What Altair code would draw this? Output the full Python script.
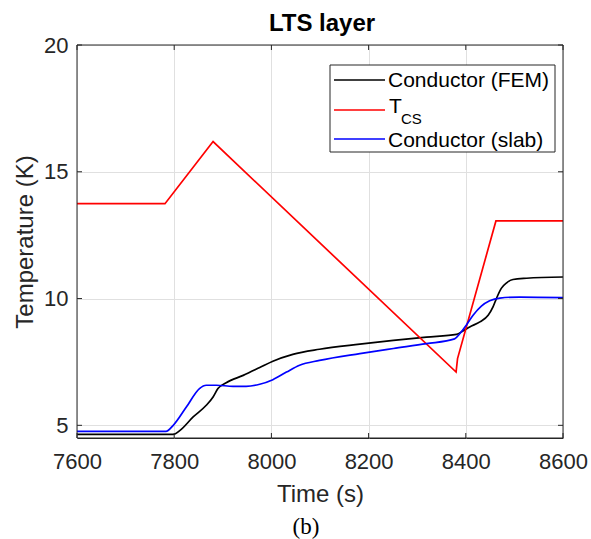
import altair as alt
import pandas as pd

# ---- data ----
fem_t = [7600, 7798, 7812, 7839, 7866, 7880, 7890, 7907, 7942, 7976, 8003, 8044, 8099,
         8182, 8251, 8319, 8381, 8394, 8408, 8429, 8446, 8456, 8463, 8473, 8484, 8497,
         8525, 8600]
fem_T = [4.64, 4.64, 4.80, 5.33, 5.79, 6.12, 6.45, 6.68, 6.97, 7.28, 7.53, 7.80, 8.00,
         8.20, 8.35, 8.48, 8.59, 8.72, 8.88, 9.08, 9.34, 9.67, 10.00, 10.40, 10.62, 10.75,
         10.80, 10.85]

tcs_t = [7600, 7781, 7880, 8380, 8383, 8462, 8600]
tcs_T = [13.74, 13.74, 16.19, 7.10, 7.63, 13.06, 13.06]

slab_t = [7600, 7783, 7798, 7825, 7852, 7866, 7887, 7921, 7948, 7976, 8003, 8031, 8058,
          8099, 8182, 8251, 8319, 8377, 8388, 8401, 8415, 8432, 8449, 8470, 8511, 8600]
slab_T = [4.76, 4.76, 5.00, 5.72, 6.45, 6.58, 6.58, 6.54, 6.54, 6.62, 6.80, 7.10, 7.37,
          7.56, 7.83, 8.03, 8.22, 8.41, 8.62, 8.95, 9.34, 9.70, 9.91, 10.02, 10.06, 10.04]

x_ticks = [7600, 7800, 8000, 8200, 8400, 8600]
y_ticks = [5, 10, 15, 20]

W, H = 486, 393
FONT = "Liberation Sans"
TXT = "#262626"

xs = alt.Scale(domain=[7600, 8600], nice=False, zero=False)
ys = alt.Scale(domain=[4.5, 20], nice=False, zero=False)

xenc = alt.X("t:Q", scale=xs,
             axis=alt.Axis(values=x_ticks, title="Time (s)", format="d", ticks=False,
                           labelFlush=False, labelOverlap=False,
                           labelPadding=13, titleX=W / 2, titleY=63,
                           titleBaseline="alphabetic",
                           labelFont=FONT, labelFontSize=22, labelColor=TXT,
                           titleFont=FONT, titleFontSize=24, titleColor=TXT,
                           titleFontWeight="normal"))
yenc = alt.Y("T:Q", scale=ys,
             axis=alt.Axis(values=y_ticks, title="Temperature (K)", ticks=False,
                           labelFlush=False, labelOverlap=False,
                           labelPadding=9, titleX=-45, titleY=H / 2,
                           titleBaseline="alphabetic",
                           labelFont=FONT, labelFontSize=22, labelColor=TXT,
                           titleFont=FONT, titleFontSize=24, titleColor=TXT,
                           titleFontWeight="normal"))


def series(t, T, color, interp="linear"):
    df = pd.DataFrame({"t": t, "T": T, "i": range(len(t))})
    return alt.Chart(df).mark_line(color=color, strokeWidth=1.7, clip=True,
                                   interpolate=interp).encode(
        x=xenc, y=yenc, order="i:Q")


fem = series(fem_t, fem_T, "#000000", "monotone")
tcs = series(tcs_t, tcs_T, "#ff0000")
slab = series(slab_t, slab_T, "#0000ff", "monotone")

one = alt.Data(values=[{"a": 0}])

# inward MATLAB-style ticks on all four sides
xt = pd.DataFrame({"t": x_ticks})
yt = pd.DataFrame({"T": y_ticks})
tick_layers = [
    alt.Chart(xt).mark_rule(color=TXT, strokeWidth=1).encode(
        x=alt.X("t:Q", scale=xs), y=alt.value(H), y2=alt.value(H - 5)),
    alt.Chart(xt).mark_rule(color=TXT, strokeWidth=1).encode(
        x=alt.X("t:Q", scale=xs), y=alt.value(0), y2=alt.value(5)),
    alt.Chart(yt).mark_rule(color=TXT, strokeWidth=1).encode(
        y=alt.Y("T:Q", scale=ys), x=alt.value(0), x2=alt.value(5)),
    alt.Chart(yt).mark_rule(color=TXT, strokeWidth=1).encode(
        y=alt.Y("T:Q", scale=ys), x=alt.value(W), x2=alt.value(W - 5)),
]

# axes box drawn on top of the grid
frame = alt.Chart(one).mark_rect(fill=None, stroke="#262626", strokeWidth=1).encode(
    x=alt.value(0), x2=alt.value(W), y=alt.value(0), y2=alt.value(H))

# legend (MATLAB-style box)
box = alt.Chart(one).mark_rect(fill="white", stroke=TXT, strokeWidth=1).encode(
    x=alt.value(253), x2=alt.value(478), y=alt.value(20), y2=alt.value(107))

leg_y = [35, 65, 94]
leg_c = ["#000000", "#ff0000", "#0000ff"]
leg_rules = [
    alt.Chart(one).mark_rule(color=c, strokeWidth=1.6).encode(
        x=alt.value(257), x2=alt.value(308), y=alt.value(yy))
    for yy, c in zip(leg_y, leg_c)
]


def txt(s, x, y, size=21, font=FONT, weight="normal", align="left"):
    return alt.Chart(one).mark_text(text=s, font=font, fontSize=size, color="#000000",
                                    fontWeight=weight, align=align,
                                    baseline="alphabetic").encode(
        x=alt.value(x), y=alt.value(y))


leg_texts = [
    txt("Conductor (FEM)", 311, 42),
    txt("T", 312, 68),
    txt("CS", 324, 79, 15),
    txt("Conductor (slab)", 311, 102),
]

title = txt("LTS layer", 245, -14, 24, FONT, "bold", "center")
caption = txt("(b)", 229, 489, 23, "Liberation Serif", "normal", "center")

chart = alt.layer(fem, tcs, slab, *tick_layers, frame, box, *leg_rules, *leg_texts,
                  title, caption).properties(
    width=W, height=H,
    autosize=alt.AutoSizeParams(type="none"),
    padding={"left": 77, "top": 45, "right": 28, "bottom": 101},
).configure_view(stroke="#262626", strokeWidth=1).configure_axis(
    domain=False, grid=True, gridColor="#e0e0e0", gridWidth=1,
)

chart.save("out.html", embed_options={"renderer": "svg", "actions": False})
